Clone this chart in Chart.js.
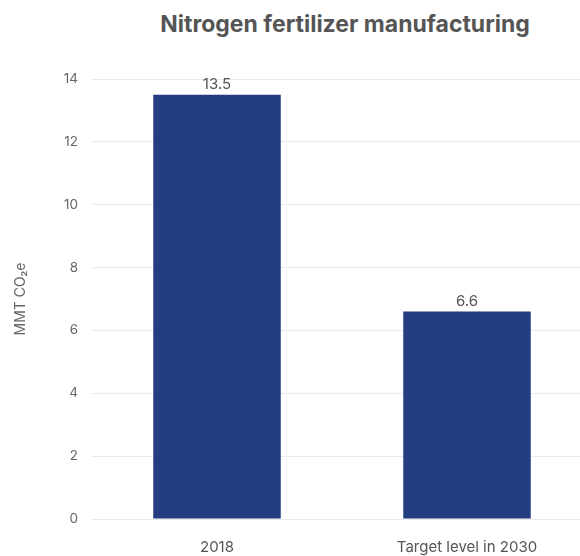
<!DOCTYPE html>
<html>
<head>
<meta charset="utf-8">
<script src="https://cdn.jsdelivr.net/npm/chart.js@4"></script>
<style>
  html, body { margin: 0; padding: 0; background: #fff; overflow: hidden; }
  #wrap { position: relative; width: 580px; height: 556px; overflow: hidden; }
  #title {
    position: absolute; top: 10px; left: 145px; width: 400px; text-align: center;
    font-family: Inter, sans-serif; font-weight: 700; font-size: 23px; color: #555;
  }
  #box { position: absolute; left: 0; top: 0; width: 604px; height: 556px; }
</style>
</head>
<body>
<div id="wrap">
  <div id="title">Nitrogen fertilizer manufacturing</div>
  <div id="box"><canvas id="chart" width="604" height="556"></canvas></div>
</div>
<script>
// --- dados ---
const categories = ['2018', 'Target level in 2030'];
const emissions = [13.5, 6.6];
const yTicks = [0, 2, 4, 6, 8, 10, 12, 14];

const barColor = '#243c80';
const textColor = '#666';

// rótulos acima das barras
const valueLabels = {
    id: 'valueLabels',
    afterDatasetsDraw(chart) {
        const ctx = chart.ctx;
        const meta = chart.getDatasetMeta(0);
        ctx.save();
        ctx.font = '15px Inter, sans-serif';
        ctx.fillStyle = '#555';
        ctx.textAlign = 'center';
        ctx.textBaseline = 'bottom';
        meta.data.forEach((bar, i) => {
            ctx.fillText(emissions[i].toFixed(1), bar.x, bar.y - 3);
        });
        ctx.restore();
    }
};

new Chart(document.getElementById('chart'), {
    type: 'bar',
    data: {
        labels: categories,
        datasets: [{
            data: emissions, backgroundColor: barColor,
            barPercentage: 0.51, categoryPercentage: 1
        }]
    },
    options: {
        responsive: false, animation: false,
        layout: { padding: { top: 79, right: 12, bottom: 0, left: 0 } },
        plugins: { legend: { display: false }, tooltip: { enabled: false } },
        scales: {
            x: {
                afterFit: (axis) => { axis.height = 37; },
                grid: { display: false, drawTicks: false }, border: { display: false },
                ticks: { color: '#555', font: { family: 'Inter, sans-serif', size: 15 }, padding: 19 }
            },
            y: {
                min: 0, max: 14,
                afterBuildTicks: (axis) => { axis.ticks = yTicks.map(v => ({ value: v })); },
                afterFit: (axis) => { axis.width = 92; },
                grid: { color: '#ebebeb', drawTicks: false }, border: { display: false },
                ticks: { color: textColor, font: { family: 'Inter, sans-serif', size: 13.5 }, padding: 14 },
                title: {
                    display: true, text: 'MMT CO\u2082e', color: textColor,
                    font: { family: 'Inter, sans-serif', size: 14 }, padding: { top: 12 }
                }
            }
        }
    },
    plugins: [valueLabels]
});
</script>
</body>
</html>
